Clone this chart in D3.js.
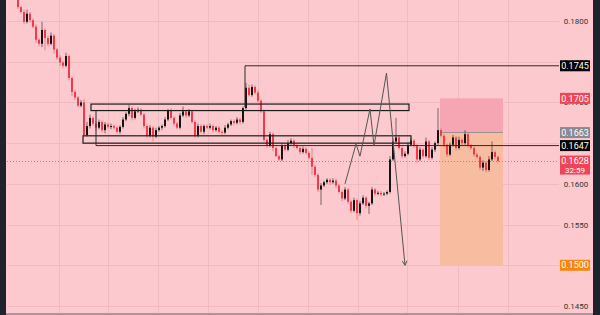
<!doctype html>
<html>
<head>
<meta charset="UTF-8">
<style>
  body { margin: 0; background: #fccace; }
  svg { display: block; font-family: Roboto, "DejaVu Sans", sans-serif; }
</style>
<script src="https://d3js.org/d3.v7.min.js"></script>
</head>
<body>
<svg width="600" height="315"></svg>
<script>
// ---- data ----
const firstOpen = 0.1826;
const closes = [
  0.1817,0.1811,0.1799,0.1809,0.1801,0.1793,0.1777,0.1772,0.1789,0.1779,
  0.1772,0.1782,0.1765,0.1755,0.1749,0.1745,0.1757,0.1730,0.1713,0.1706,
  0.1696,0.1700,0.1660,0.1671,0.1681,0.1674,0.1669,0.1676,0.1666,0.1673,
  0.1670,0.1671,0.1669,0.1664,0.1670,0.1679,0.1686,0.1693,0.1681,0.1689,
  0.1691,0.1685,0.1671,0.1659,0.1669,0.1658,0.1666,0.1669,0.1671,0.1679,
  0.1690,0.1681,0.1674,0.1669,0.1684,0.1689,0.1684,0.1689,0.1676,0.1659,
  0.1671,0.1664,0.1671,0.1669,0.1671,0.1666,0.1669,0.1664,0.1663,0.1669,
  0.1673,0.1677,0.1675,0.1679,0.1676,0.1693,0.1718,0.1709,0.1719,0.1712,
  0.1702,0.1689,0.1654,0.1647,0.1661,0.1644,0.1634,0.1630,0.1647,0.1642,
  0.1650,0.1653,0.1647,0.1644,0.1639,0.1643,0.1638,0.1632,0.1621,0.1611,
  0.1593,0.1598,0.1602,0.1605,0.1602,0.1604,0.1598,0.1590,0.1582,0.1593,
  0.1578,0.1567,0.1580,0.1564,0.1576,0.1583,0.1573,0.1576,0.1593,0.1588,
  0.1589,0.1587,0.1588,0.1590,0.1630,0.1652,0.1657,0.1644,0.1634,0.1637,
  0.1648,0.1653,0.1647,0.1630,0.1642,0.1634,0.1652,0.1632,0.1642,0.1650,
  0.1666,0.1659,0.1648,0.1636,0.1648,0.1657,0.1644,0.1654,0.1650,0.1661,
  0.1647,0.1644,0.1636,0.1633,0.1620,0.1626,0.1617,0.1630,0.1639,0.1633,
  0.1628
];
// wick lengths beyond the body, in units of 0.0001
const wickUp = [
  1,2,3,5,2,2,3,2,10,2, 3,4,2,2,3,2,4,2,2,2, 2,3,4,5,4,2,3,3,2,3,
  2,3,2,2,2,3,2,4,2,3, 3,2,2,2,3,2,3,2,2,3, 2,3,2,2,3,6,2,3,2,2,
  3,2,2,2,3,2,2,2,2,3, 2,2,2,3,2,2,6,4,3,2, 3,2,2,2,3,2,2,2,3,2,
  4,3,2,2,2,3,2,2,12,2, 2,3,2,2,2,3,2,2,2,3, 2,2,3,2,3,3,2,2,3,2,
  2,2,2,2,4,4,24,3,2,3, 3,3,2,2,3,2,5,2,3,2, 27,2,2,2,3,3,2,4,2,5,
  2,2,2,2,2,3,2,4,13,2, 2
];
const wickDn = [
  2,2,3,2,3,2,4,3,4,15, 3,2,5,3,4,3,2,3,5,3, 2,2,2,2,3,3,4,2,3,4,
  2,3,2,2,3,2,2,3,3,2, 2,2,3,3,2,6,2,2,3,2, 2,2,3,2,2,2,3,2,2,3,
  2,2,3,2,2,3,2,2,3,2, 2,2,3,2,3,2,2,2,2,2, 2,2,3,3,2,4,1,2,2,2,
  2,2,3,2,3,2,2,2,10,3, 3,19,2,2,3,2,3,2,3,2, 3,3,2,8,3,2,3,10,2,3,
  2,2,2,2,2,2,3,2,3,2, 2,2,3,4,2,3,2,3,2,3, 3,2,3,3,2,2,3,2,3,2,
  2,2,3,2,3,4,3,2,2,3, 2
];

const priceTicks = [0.1450, 0.1500, 0.1550, 0.1600, 0.1650, 0.1700, 0.1750, 0.1800];
const timeGrid = [13.67, 30, 46.67, 63.33, 80, 96.67, 113.33, 129.67, 146.67, 163.33];

// drawings: [fromIdx, toIdx, topPrice, bottomPrice]
const boxes = [
  [24.33, 130.33, 0.1698, 0.1690],
  [21.67, 131.0, 0.1659, 0.1650]
];
const rayLevels = [0.1745, 0.1647];
const rayStartIdx = [75.67, 26];
const rayStemFrom = [0.1694, 0.1690];
const zigIdx = [109, 112.67, 114, 117.33, 118.67, 122.83, 129];
const zigPrice = [0.1600, 0.1649, 0.1634, 0.1692, 0.1647, 0.1736, 0.1500];
// short position: idx range, stop, entry, target
const posIdx = [140.67, 161.67];
const posStop = 0.1705, posEntry = 0.1663, posTarget = 0.1500;

const labelPrices = [0.1745, 0.1705, 0.1663, 0.1647, 0.1500];
const labelColors = ["#000000", "#f04558", "#878a93", "#000000", "#f7870f"];
const lastPrice = 0.1628;
const countdown = "32:59";

// ---- drawing ----
const svg = d3.select("svg");
const W = 600, H = 315;
const plotL = 7, plotR = 559, plotB = 313;

const x = d3.scaleLinear().domain([0, 160]).range([18, 498]);
const y = d3.scaleLinear().domain([0.18, 0.145]).range([21, 306]);

svg.append("rect").attr("width", W).attr("height", H).attr("fill", "#fccace");

svg.append("clipPath").attr("id", "plot")
  .append("rect").attr("x", plotL).attr("y", 0)
  .attr("width", plotR - plotL).attr("height", plotB);

const g = svg.append("g").attr("clip-path", "url(#plot)");

// grid
g.selectAll(".hg").data(priceTicks).enter().append("line")
  .attr("x1", plotL).attr("x2", plotR)
  .attr("y1", d => Math.round(y(d)) + 0.5).attr("y2", d => Math.round(y(d)) + 0.5)
  .attr("stroke", "#eebcc0").attr("stroke-width", 1);
g.selectAll(".vg").data(timeGrid).enter().append("line")
  .attr("x1", d => Math.round(x(d)) + 0.5).attr("x2", d => Math.round(x(d)) + 0.5)
  .attr("y1", 0).attr("y2", plotB)
  .attr("stroke", "#eebcc0").attr("stroke-width", 1);

// position tool zones
g.append("rect")
  .attr("x", x(posIdx[0])).attr("width", x(posIdx[1]) - x(posIdx[0]))
  .attr("y", y(posStop)).attr("height", y(posEntry) - y(posStop))
  .attr("fill", "#f6a5b2");
g.append("rect")
  .attr("x", x(posIdx[0])).attr("width", x(posIdx[1]) - x(posIdx[0]))
  .attr("y", y(posEntry)).attr("height", y(posTarget) - y(posEntry))
  .attr("fill", "#f8bda1");
g.append("line")
  .attr("x1", x(posIdx[0])).attr("x2", x(posIdx[1]))
  .attr("y1", y(posEntry)).attr("y2", y(posEntry))
  .attr("stroke", "#9a8f90").attr("stroke-width", 1);

// last price dotted line
g.append("line")
  .attr("x1", plotL).attr("x2", plotR)
  .attr("y1", Math.round(y(lastPrice)) + 0.5).attr("y2", Math.round(y(lastPrice)) + 0.5)
  .attr("stroke", "#ef6676").attr("stroke-dasharray", "1,2").attr("stroke-width", 1);

// candles
const candles = closes.map((c, i) => {
  const o = i === 0 ? firstOpen : closes[i - 1];
  return {
    i, o, c,
    h: Math.max(o, c) + wickUp[i] * 1e-4,
    l: Math.min(o, c) - wickDn[i] * 1e-4,
    up: c >= o
  };
});
const upCol = "#141414", dnCol = "#f03a4c";

g.selectAll(".wick").data(candles).enter().append("line")
  .attr("x1", d => x(d.i)).attr("x2", d => x(d.i))
  .attr("y1", d => y(d.h)).attr("y2", d => y(d.l))
  .attr("stroke", d => d.up ? upCol : dnCol)
  .attr("stroke-opacity", 0.55).attr("stroke-width", 1);

g.selectAll(".body").data(candles).enter().append("rect")
  .attr("x", d => x(d.i) - 1).attr("width", 2)
  .attr("y", d => Math.min(y(d.o), y(d.c)))
  .attr("height", d => Math.max(1, Math.abs(y(d.o) - y(d.c))))
  .attr("fill", d => d.up ? upCol : dnCol);

// rectangles
g.selectAll(".box").data(boxes).enter().append("rect")
  .attr("x", d => x(d[0])).attr("width", d => x(d[1]) - x(d[0]))
  .attr("y", d => y(d[2])).attr("height", d => y(d[3]) - y(d[2]))
  .attr("fill", "none").attr("stroke", "#1c1c1c").attr("stroke-width", 1.2);

// horizontal rays with their stems
rayLevels.forEach((p, k) => {
  g.append("path")
    .attr("d", d3.line()([
      [x(rayStartIdx[k]), y(rayStemFrom[k])],
      [x(rayStartIdx[k]), y(p)],
      [plotR, y(p)]
    ]))
    .attr("fill", "none").attr("stroke", "#2a2a2a").attr("stroke-width", 1);
});

// projection zigzag and arrow
const zig = zigIdx.map((d, k) => [x(d), y(zigPrice[k])]);
g.append("path")
  .attr("d", d3.line()(zig))
  .attr("fill", "none").attr("stroke", "#555").attr("stroke-width", 1);
const tip = zig[zig.length - 1], prev = zig[zig.length - 2];
const ang = Math.atan2(tip[1] - prev[1], tip[0] - prev[0]);
const head = [-0.5, 0.5].map(a => [tip[0] - 5 * Math.cos(ang + a), tip[1] - 5 * Math.sin(ang + a)]);
g.append("path")
  .attr("d", d3.line()([head[0], tip, head[1]]))
  .attr("fill", "none").attr("stroke", "#555").attr("stroke-width", 1);

// price axis (ticks fully covered by a price label are not drawn)
const shownTicks = priceTicks.filter(t => labelPrices.every(p => Math.abs(p - t) > 0.0004));
const axis = svg.append("g")
  .attr("transform", "translate(576,0)")
  .call(d3.axisRight(y).tickValues(shownTicks).tickSize(0).tickPadding(0)
    .tickFormat(d3.format(".4f")));
axis.select(".domain").remove();
axis.selectAll("text")
  .attr("text-anchor", "middle").attr("fill", "#333")
  .style("font-size", "8px").attr("font-family", "Roboto, sans-serif");

// price labels
const lab = svg.append("g");
labelPrices.forEach((p, k) => {
  const cy = y(p);
  lab.append("rect").attr("x", 560).attr("y", cy - 5.5).attr("width", 30).attr("height", 11)
    .attr("fill", labelColors[k]);
  lab.append("text").attr("x", 575).attr("y", cy).attr("dy", "0.35em")
    .attr("text-anchor", "middle").attr("fill", "#fff")
    .style("font-size", "9px").text(d3.format(".4f")(p));
});
{
  const cy = y(lastPrice);
  lab.append("rect").attr("x", 560).attr("y", cy - 5.5).attr("width", 30).attr("height", 19)
    .attr("fill", "#f04558");
  lab.append("text").attr("x", 575).attr("y", cy).attr("dy", "0.35em")
    .attr("text-anchor", "middle").attr("fill", "#fff")
    .style("font-size", "9px").text(d3.format(".4f")(lastPrice));
  lab.append("text").attr("x", 575).attr("y", cy + 9).attr("dy", "0.35em")
    .attr("text-anchor", "middle").attr("fill", "#fff")
    .style("font-size", "8px").text(countdown);
}

// frame strips
svg.append("rect").attr("x", 0).attr("y", 0).attr("width", 6).attr("height", H).attr("fill", "#1e222d");
svg.append("rect").attr("x", 593).attr("y", 0).attr("width", 7).attr("height", H).attr("fill", "#1e222d");
svg.append("rect").attr("x", 6).attr("y", plotB).attr("width", 587).attr("height", 2).attr("fill", "#a8979a");
</script>
</body>
</html>
